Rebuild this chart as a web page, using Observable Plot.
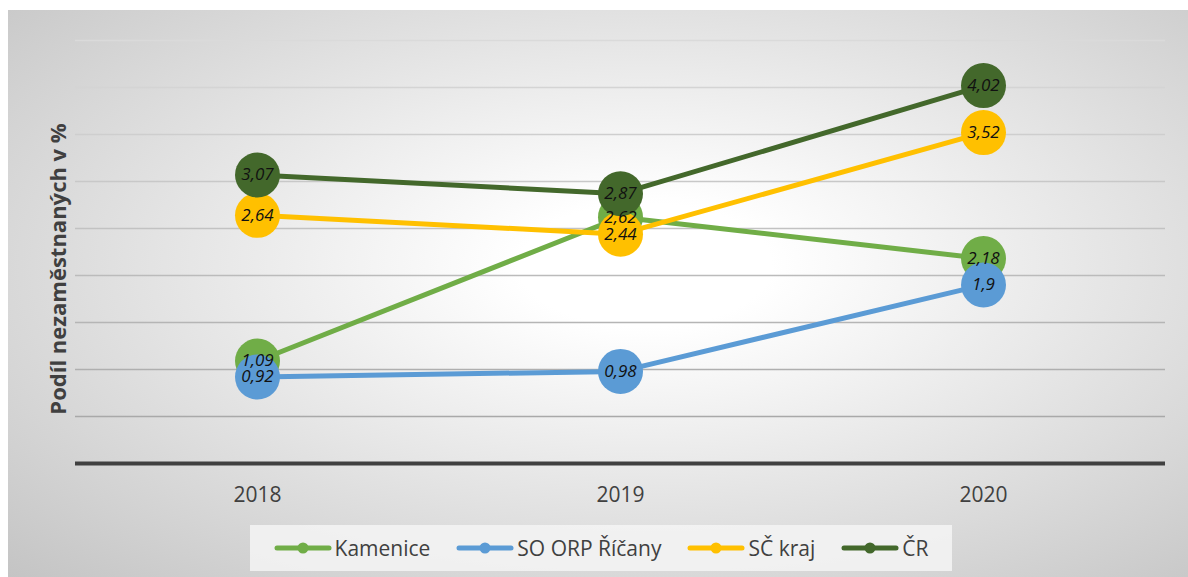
<!DOCTYPE html>
<html>
<head>
<meta charset="utf-8">
<script src="https://cdn.jsdelivr.net/npm/d3@7"></script>
<script src="https://cdn.jsdelivr.net/npm/@observablehq/plot@0.6"></script>
<style>
  html, body { margin: 0; padding: 0; background: #ffffff; }
  #frame {
    position: absolute; left: 8px; top: 10px; width: 1180px; height: 567px;
    background: radial-gradient(ellipse farthest-corner at 54% 45%, #ffffff 0%, #ffffff 14%, #c4c4c4 100%);
    overflow: hidden;
  }
  #chart { position: absolute; left: 0; top: 0; }
  #legend {
    position: absolute; left: 242px; top: 515px; width: 702px; height: 46px;
    background: rgba(244,244,244,0.85);
    display: flex; align-items: center; justify-content: center; gap: 26px;
    font-family: "Open Sans", sans-serif; font-size: 21px; color: #404040;
  }
  .item { display: flex; align-items: center; gap: 3px; }
  .item svg { display: block; }
</style>
</head>
<body>
<div id="frame">
  <div id="chart"></div>
  <div id="legend"></div>
</div>
<script>
const years = ["2018", "2019", "2020"];
const seriesNames = ["Kamenice", "SO ORP Říčany", "SČ kraj", "ČR"];
const kamenice = [1.09, 2.62, 2.18];
const soOrpRicany = [0.92, 0.98, 1.9];
const scKraj = [2.64, 2.44, 3.52];
const cr = [3.07, 2.87, 4.02];
const seriesColors = ["#70AD47", "#5B9BD5", "#FFC000", "#43682B"];
const gridValues = [0.5, 1, 1.5, 2, 2.5, 3, 3.5, 4, 4.5];
const yLabel = "Podíl nezaměstnaných v %";

const seriesValues = [kamenice, soOrpRicany, scKraj, cr];
const rows = [];
seriesNames.forEach((s, i) => {
  years.forEach((yr, j) => rows.push({series: s, year: yr, value: seriesValues[i][j]}));
});
const fmt = v => String(v).replace(".", ",");
const gridColor = d3.interpolateRgb("#a3a3a3", "#dadada");

const seriesMarks = [];
seriesNames.forEach(s => {
  const data = rows.filter(r => r.series === s);
  seriesMarks.push(Plot.line(data, {x: "year", y: "value", stroke: "series", strokeWidth: 5, strokeLinecap: "round"}));
  seriesMarks.push(Plot.dot(data, {x: "year", y: "value", fill: "series", r: 22.5, stroke: "none"}));
});

const chart = Plot.plot({
  width: 1180,
  height: 510,
  marginLeft: 67,
  marginRight: 23,
  marginTop: 30,
  marginBottom: 57,
  style: {background: "transparent", fontFamily: "Open Sans, sans-serif", fontSize: "21px", color: "#404040"},
  x: {type: "point", domain: years, padding: 0.5, label: null, tickSize: 0, tickPadding: 24},
  y: {domain: [0, 4.5], axis: null},
  color: {domain: seriesNames, range: seriesColors},
  marks: [
    Plot.ruleY(gridValues, {stroke: d => gridColor(d / 4.5), strokeWidth: 1.5}),
    Plot.ruleY([0], {stroke: "#404040", strokeWidth: 4}),
    ...seriesMarks,
    Plot.text(rows, {x: "year", y: "value", text: d => fmt(d.value), fontStyle: "italic", fontSize: 17, fill: "#111111"}),
    Plot.text([yLabel], {frameAnchor: "left", textAnchor: "middle", lineAnchor: "middle", text: d => d, rotate: -90, dx: -17, dy: 17, fontWeight: "bold", fontSize: 22, fill: "#404040"})
  ]
});
document.getElementById("chart").appendChild(chart);

const legend = document.getElementById("legend");
seriesNames.forEach((s, i) => {
  const item = document.createElement("div");
  item.className = "item";
  item.innerHTML = `<svg width="58" height="14"><line x1="3" y1="7" x2="55" y2="7" stroke="${seriesColors[i]}" stroke-width="5" stroke-linecap="round"/><circle cx="29" cy="7" r="5.5" fill="${seriesColors[i]}"/></svg><span>${s}</span>`;
  legend.appendChild(item);
});
</script>
</body>
</html>
